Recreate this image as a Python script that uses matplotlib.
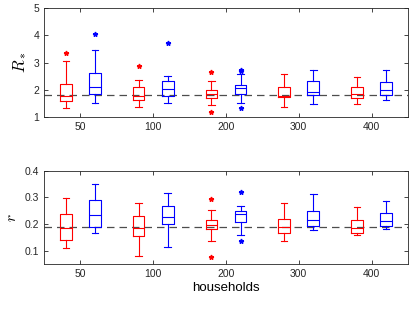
import matplotlib
matplotlib.use("Agg")
import matplotlib.pyplot as plt

plt.rcParams['font.family'] = ['Liberation Sans', 'DejaVu Sans']
plt.rcParams['mathtext.fontset'] = 'cm'

households = ['50', '100', '200', '300', '400']

# R* : box stats per group (whislo, q1, med, q3, whishi), outliers
R_red = [(1.32, 1.59, 1.79, 2.22, 3.07), (1.36, 1.63, 1.79, 2.10, 2.35),
         (1.44, 1.69, 1.84, 2.00, 2.33), (1.36, 1.72, 1.79, 2.09, 2.57),
         (1.47, 1.69, 1.84, 2.09, 2.46)]
R_red_out = [[3.36], [2.89], [2.64, 1.17], [], []]
R_blue = [(1.52, 1.84, 2.10, 2.62, 3.46), (1.52, 1.79, 2.03, 2.32, 2.49),
          (1.53, 1.85, 2.06, 2.19, 2.59), (1.47, 1.80, 1.91, 2.32, 2.72),
          (1.64, 1.80, 1.99, 2.28, 2.72)]
R_blue_out = [[4.06], [3.71], [2.74, 2.70, 1.34], [], []]
R_true = 1.8

# r
r_red = [(0.112, 0.142, 0.187, 0.239, 0.299), (0.081, 0.155, 0.187, 0.229, 0.280),
         (0.136, 0.180, 0.198, 0.214, 0.251), (0.136, 0.166, 0.190, 0.218, 0.278),
         (0.158, 0.168, 0.185, 0.216, 0.262)]
r_red_out = [[], [], [0.293, 0.077], [], []]
r_blue = [(0.167, 0.190, 0.233, 0.289, 0.348), (0.114, 0.200, 0.227, 0.267, 0.318),
          (0.161, 0.207, 0.236, 0.248, 0.266), (0.177, 0.192, 0.214, 0.247, 0.312),
          (0.183, 0.193, 0.213, 0.241, 0.288)]
r_blue_out = [[], [], [0.320, 0.138], [], []]
r_true = 0.189


def make_stats(rows, outs):
    stats = []
    for (lo, q1, med, q3, hi), fl in zip(rows, outs):
        stats.append(dict(whislo=lo, q1=q1, med=med, q3=q3, whishi=hi, fliers=fl))
    return stats


def draw_boxes(ax, rows, outs, pos, color):
    props = dict(color=color, linewidth=0.8)
    ax.bxp(make_stats(rows, outs), positions=pos, widths=0.16, capwidths=0.09,
           boxprops=props, whiskerprops=dict(color=color, linewidth=0.8, linestyle='-'),
           capprops=props, medianprops=props,
           flierprops=dict(marker='*', markersize=3.5, markerfacecolor=color,
                           markeredgecolor=color, linestyle='none'),
           showfliers=True, manage_ticks=False)


fig = plt.figure(figsize=(4.15, 3.09), dpi=100)
ax1 = fig.add_axes([0.106, 0.621, 0.877, 0.353])
ax2 = fig.add_axes([0.106, 0.145, 0.877, 0.303])

x = list(range(1, len(households) + 1))
xr = [i - 0.2 for i in x]
xb = [i + 0.2 for i in x]

for ax, red, red_out, blue, blue_out, true in [
        (ax1, R_red, R_red_out, R_blue, R_blue_out, R_true),
        (ax2, r_red, r_red_out, r_blue, r_blue_out, r_true)]:
    ax.axhline(true, color='0.3', linestyle=(0, (6, 4)), linewidth=0.9, zorder=0)
    draw_boxes(ax, red, red_out, xr, 'red')
    draw_boxes(ax, blue, blue_out, xb, 'blue')
    ax.set_xlim(0.5, 5.5)
    ax.set_xticks(x)
    ax.set_xticklabels(households)
    ax.tick_params(direction='in', top=True, right=True, labelsize=7.5,
                   length=3, width=0.6, colors='0.15')
    for s in ax.spines.values():
        s.set_color('0.15')
        s.set_linewidth(0.6)

ax1.set_ylim(1, 5)
ax1.set_yticks([1, 2, 3, 4, 5])
ax1.set_ylabel(r'$R_*$', fontsize=12, labelpad=4)

ax2.set_ylim(0.05, 0.4)
ax2.set_yticks([0.1, 0.2, 0.3, 0.4])
ax2.set_ylabel(r'$r$', fontsize=11, labelpad=4)
ax2.set_xlabel('households', fontsize=9.5, labelpad=2)

fig.savefig('out.png', dpi=100)
